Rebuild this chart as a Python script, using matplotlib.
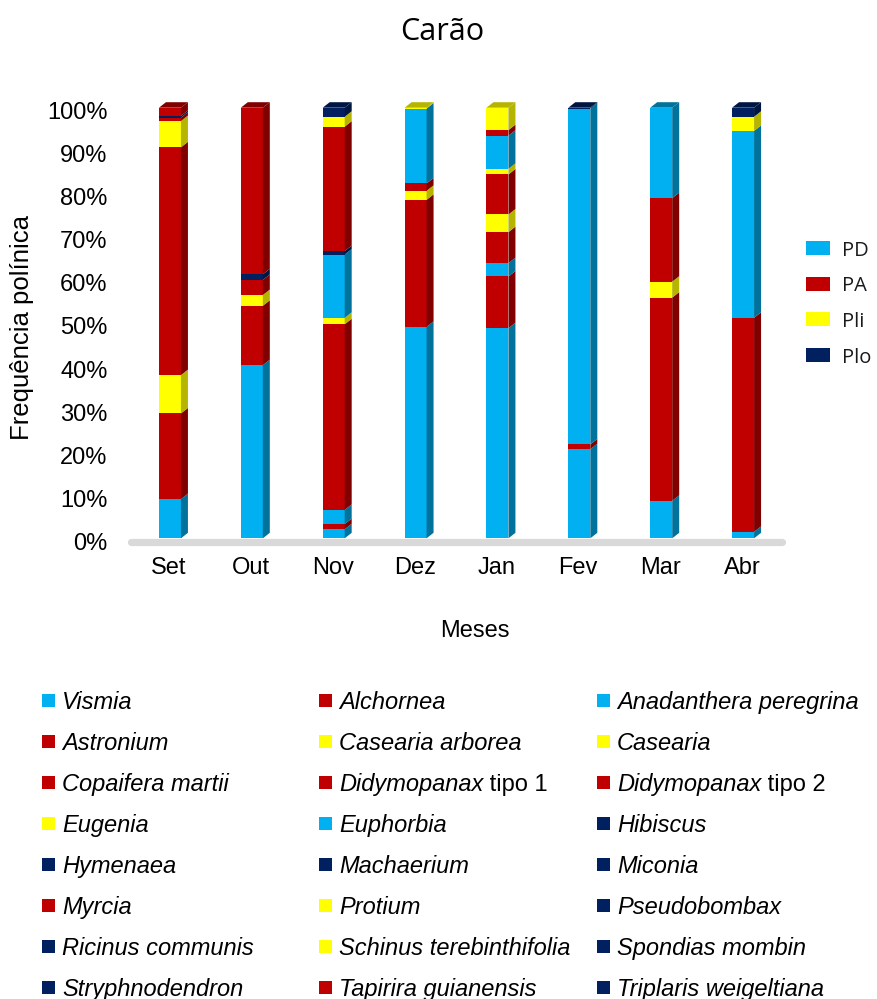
import matplotlib
matplotlib.use("Agg")
import matplotlib.pyplot as plt
from matplotlib.patches import Polygon, Rectangle
from matplotlib.text import Annotation
from matplotlib.transforms import ScaledTranslation

# ---- data -------------------------------------------------------------
months = ["Set", "Out", "Nov", "Dez", "Jan", "Fev", "Mar", "Abr"]

# pollen-type shares (%) per month, stacked from the bottom up
set_pct = [9.1, 19.9, 8.9, 52.9, 6.1, 0.8, 0.4, 1.9]
set_grp = ["PD", "PA", "Pli", "PA", "Pli", "PA", "Plo", "PA"]

out_pct = [40.2, 13.8, 2.5, 3.5, 1.3, 38.7]
out_grp = ["PD", "PA", "Pli", "PA", "Plo", "PA"]

nov_pct = [2.1, 1.2, 3.3, 43.1, 1.5, 14.7, 0.8, 28.9, 2.3, 2.1]
nov_grp = ["PD", "PA", "PD", "PA", "Pli", "PD", "Plo", "PA", "Pli", "Plo"]

dez_pct = [49.1, 29.5, 2.1, 1.7, 17.4, 0.2]
dez_grp = ["PD", "PA", "Pli", "PA", "PD", "Pli"]

jan_pct = [48.8, 12.0, 3.1, 7.2, 4.1, 9.3, 1.3, 7.7, 1.3, 5.2]
jan_grp = ["PD", "PA", "PD", "PA", "Pli", "PA", "Pli", "PD", "PA", "Pli"]

fev_pct = [20.7, 1.1, 78.0, 0.2]
fev_grp = ["PD", "PA", "PD", "Plo"]

mar_pct = [8.7, 47.2, 3.7, 19.4, 21.0]
mar_grp = ["PD", "PA", "Pli", "PA", "PD"]

abr_pct = [1.5, 49.7, 43.4, 3.3, 2.1]
abr_grp = ["PD", "PA", "PD", "Pli", "Plo"]

month_pct = [set_pct, out_pct, nov_pct, dez_pct, jan_pct, fev_pct, mar_pct, abr_pct]
month_grp = [set_grp, out_grp, nov_grp, dez_grp, jan_grp, fev_grp, mar_grp, abr_grp]

groups = ["PD", "PA", "Pli", "Plo"]

species = [
    "Vismia", "Alchornea", "Anadanthera peregrina",
    "Astronium", "Casearia arborea", "Casearia",
    "Copaifera martii", "Didymopanax|tipo 1", "Didymopanax|tipo 2",
    "Eugenia", "Euphorbia", "Hibiscus",
    "Hymenaea", "Machaerium", "Miconia",
    "Myrcia", "Protium", "Pseudobombax",
    "Ricinus communis", "Schinus terebinthifolia", "Spondias mombin",
    "Stryphnodendron", "Tapirira guianensis", "Triplaris weigeltiana",
]
species_grp = [
    "PD", "PA", "PD",
    "PA", "Pli", "Pli",
    "PA", "PA", "PA",
    "Pli", "PD", "Plo",
    "Plo", "Plo", "Plo",
    "PA", "Pli", "Plo",
    "Plo", "Pli", "Plo",
    "Plo", "PA", "Plo",
]

# ---- style ------------------------------------------------------------
front = {"PD": "#00B0F0", "PA": "#C00000", "Pli": "#FFFF00", "Plo": "#002060"}
shade = {"PD": "#00729C", "PA": "#800000", "Pli": "#B5B500", "Plo": "#001642"}

ARIAL = ["Liberation Sans", "DejaVu Sans"]
CALI = ["Open Sans", "DejaVu Sans"]
FS = 17

W, H = 877, 999
fig = plt.figure(figsize=(W / 100, H / 100), dpi=100)
fig.patch.set_facecolor("white")


def fx(px):
    return px / W


def fy(py):
    return 1 - py / H


ax = fig.add_axes([fx(129), fy(538.3), fx(784) - fx(129), fy(107.7) - fy(538.3)])
ax.set_xlim(-0.5, len(months) - 0.5)
ax.set_ylim(0, 100)
for s in ax.spines.values():
    s.set_visible(False)
ax.set_facecolor("none")

# bar geometry (front half-width, depth offsets) in data units
px_x = (len(months)) / 655.0
px_y = 100 / 430.6
hw = 11 * px_x
dx = 7 * px_x
dy = 5.5 * px_y

for i, (vals, grps) in enumerate(zip(month_pct, month_grp)):
    bottom = 0.0
    for k, (v, g) in enumerate(zip(vals, grps)):
        ax.bar(i, v, width=2 * hw, bottom=bottom, color=front[g], linewidth=0, zorder=2)
        top = bottom + v
        side = Polygon([(i + hw, bottom), (i + hw + dx, bottom + dy),
                        (i + hw + dx, top + dy), (i + hw, top)],
                       closed=True, facecolor=shade[g], edgecolor="none",
                       zorder=2, clip_on=False)
        ax.add_patch(side)
        if k == len(vals) - 1:
            cap = Polygon([(i - hw, top), (i + hw, top),
                           (i + hw + dx, top + dy), (i - hw + dx, top + dy)],
                          closed=True, facecolor=shade[g], edgecolor="none",
                          zorder=2, clip_on=False)
            ax.add_patch(cap)
        bottom = top

# floor
ax.plot([-0.47, len(months) - 0.53], [-0.8, -0.8], color="#D9D9D9", lw=5.2,
        solid_capstyle="round", zorder=3, clip_on=False)

ax.set_yticks(range(0, 101, 10))
ax.set_yticklabels([f"{v}%" for v in range(0, 101, 10)], fontsize=FS, family=ARIAL)
ax.set_xticks(range(len(months)))
ax.set_xticklabels(months, fontsize=FS, family=ARIAL)
ax.tick_params(axis="both", length=0)
ax.tick_params(axis="y", pad=15.5)
ax.tick_params(axis="x", pad=13.5)
shift = ScaledTranslation(0, -3 / 100, fig.dpi_scale_trans)
for lab in ax.get_yticklabels():
    lab.set_transform(lab.get_transform() + shift)
shift_x = ScaledTranslation(-1 / 100, 0, fig.dpi_scale_trans)
for lab in ax.get_xticklabels():
    lab.set_transform(lab.get_transform() + shift_x)

# titles
fig.text(fx(442), fy(32), "Carão", ha="center", va="center", fontsize=22, family=CALI)
fig.text(fx(475), fy(631), "Meses", ha="center", va="center", fontsize=FS, family=ARIAL)
fig.text(fx(22), fy(327), "Frequência polínica", ha="center", va="center",
         rotation=90, fontsize=18.5, family=ARIAL)

# group legend (right)
for r, g in enumerate(groups):
    cy = 248 + 35.7 * r
    fig.add_artist(Rectangle((fx(806), fy(cy + 7)), fx(24), fy(0) - fy(14),
                             transform=fig.transFigure, facecolor=front[g],
                             edgecolor="none"))
    fig.text(fx(842), fy(cy + 7.5), g, ha="left", va="baseline", fontsize=14.5,
             family=CALI, color="#1A1A1A")

# species legend (bottom, row-wise in three columns)
col_sq = [42, 319, 597]
for n, (name, g) in enumerate(zip(species, species_grp)):
    r, c = divmod(n, 3)
    cy = 700.5 + 41 * r
    fig.add_artist(Rectangle((fx(col_sq[c]), fy(cy + 6.5)), fx(13), fy(0) - fy(13),
                             transform=fig.transFigure, facecolor=front[g],
                             edgecolor="none"))
    parts = name.split("|")
    t = fig.text(fx(col_sq[c] + 20), fy(cy + 8.2), parts[0], ha="left", va="baseline",
                 fontsize=FS, family=ARIAL, style="italic")
    if len(parts) > 1:
        fig.add_artist(Annotation(" " + parts[1], xy=(1, 0), xycoords=t,
                                  ha="left", va="bottom", fontsize=FS, family=ARIAL))

fig.savefig("out.png", dpi=100, facecolor="white")
